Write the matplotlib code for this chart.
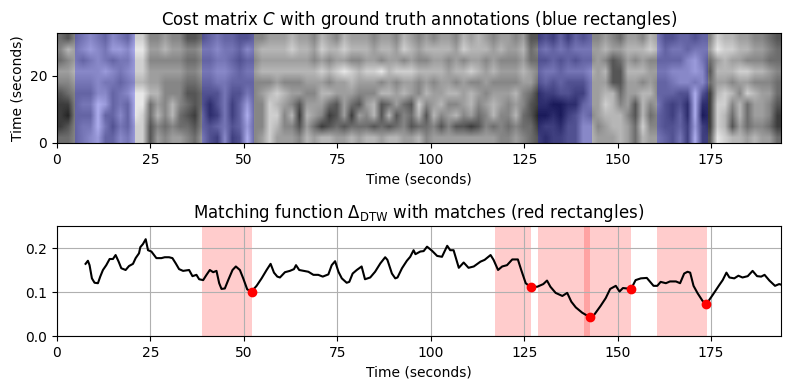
import matplotlib
matplotlib.use("Agg")
import matplotlib.pyplot as plt
import numpy as np

# gray level per cell (0 dark, 9 light), top band first, one cell per 2 seconds
cost_rows = [
    "4356765765 8855655334 5655445566 6766576576 6656657656 5665767656 6563343535 4556546657 6445545587 7665543",
    "5767876887 9966766556 6766576777 7877687787 7767768767 7776877767 6674565656 6667667778 7566566698 8776654",
    "4565676566 8855555445 5665455666 6666565665 5665665655 6656566565 5564445454 5565346565 5555786467 6655544",
    "6677778767 8866666556 6776566777 7777787898 7889788877 7767787676 6676566566 6767337776 6677787377 7887765",
    "5566676656 7766555445 5665555556 5556665667 6665656656 5665655655 5566454544 4666336656 5567767466 5665554",
    "3455577567 9977555334 4464465678 7665577666 5557767657 6677676566 6754233443 3667746677 5554494278 7587664",
    "2256698565 9946575434 2463585587 6536664364 3673464385 6755675676 5653221122 5668756375 6434292288 5746653",
    "2155595575 9847574325 2363595588 5727652362 6573735473 7567564575 5743112134 6567775374 5435291287 4746652",
    "2356696465 8835454435 4564585587 5536423434 4434345344 5353323545 4544233244 7756776485 5445383287 3645542",
    "4456785576 8836566546 4373495686 6657677667 6776776675 6666666665 5654323344 7766676476 6546393398 7767664",
]
duration = 193.7
query_len = 32.8

annot_starts = [4.7, 38.7, 128.7, 160.4]
annot_ends = [20.8, 52.7, 143.2, 174.2]

delta_t = [7.64, 8.27, 8.71, 9.34, 10.05, 10.95, 11.57, 12.29, 13.18, 14.08, 14.97, 15.68, 16.49, 17.2, 18.36,
           19.26, 20.33, 21.04, 21.94, 22.3, 23.0, 23.73, 24.35, 25.25, 26.59, 27.93, 28.82, 29.98, 30.88, 31.77,
           32.66, 33.73, 35.34, 36.24, 37.31, 38.03, 39.1, 40.0, 40.89, 41.78, 42.67, 43.39, 44.01, 44.9, 45.8,
           46.96, 47.85, 48.93, 49.82, 50.89, 52.05, 53.4, 54.74, 56.08, 57.15, 58.05, 58.94, 59.65, 60.99, 62.3,
           63.4, 63.94, 64.8, 66.1, 67.25, 68.6, 69.9, 71.1, 72.6, 73.5, 74.4, 75.3, 76.2, 77.5, 78.2,
           79.1, 80.2, 81.5, 82.4, 83.8, 85.1, 86.5, 87.8, 88.4, 89.6, 90.5, 91.1, 92.3, 93.6, 94.5,
           95.4, 95.9, 97.2, 98.1, 99.0, 100.3, 101.7, 103.0, 104.4, 105.2, 106.1, 107.5, 108.8, 110.1, 111.5,
           113.3, 114.4, 116.0, 116.8, 118.0, 119.1, 120.4, 121.8, 123.3, 124.2, 125.4, 126.7, 128.5, 130.1, 131.1,
           132.0, 133.4, 135.2, 136.5, 137.6, 138.8, 140.5, 142.5, 143.7, 145.4, 146.8, 148.0, 149.5, 150.5, 151.4,
           153.6, 154.8, 156.2, 157.8, 159.6, 160.6, 161.5, 162.9, 164.0, 165.6, 166.7, 167.8, 168.7, 169.4, 170.3,
           171.4, 172.7, 173.7, 175.4, 177.2, 178.1, 179.1, 179.9, 181.2, 182.3, 183.4, 184.8, 186.1, 187.3, 188.4,
           189.3, 190.6, 192.1, 193.2, 194.0]
delta_v = [.164, .171, .161, .131, .121, .120, .135, .150, .161, .175, .175, .184, .169, .154, .150,
           .159, .164, .177, .188, .202, .209, .220, .195, .192, .177, .177, .179, .179, .177, .165,
           .152, .148, .150, .136, .139, .129, .127, .139, .150, .145, .148, .120, .107, .108, .127,
           .150, .158, .150, .131, .106, .101, .114, .131, .150, .164, .144, .135, .133, .145, .148,
           .152, .161, .150, .148, .146, .139, .139, .135, .140, .161, .170, .146, .131, .121, .123,
           .142, .150, .158, .129, .133, .146, .165, .179, .173, .142, .131, .133, .154, .171, .180,
           .195, .186, .192, .193, .203, .194, .182, .180, .205, .195, .195, .155, .167, .155, .158,
           .169, .173, .184, .173, .150, .158, .161, .174, .174, .150, .120, .111, .112, .118, .126,
           .112, .098, .091, .098, .078, .065, .053, .043, .048, .068, .086, .107, .114, .101, .109,
           .107, .127, .131, .132, .114, .114, .123, .120, .124, .124, .120, .142, .146, .144, .114,
           .097, .080, .072, .093, .116, .127, .144, .133, .131, .137, .133, .136, .148, .136, .135,
           .139, .126, .114, .118, .116]

match_starts = [38.8, 117.3, 128.8, 141.0, 160.5]
match_ends = [52.05, 126.7, 142.6, 153.7, 173.8]
match_t = [52.05, 126.7, 142.5, 153.6, 173.7]
match_v = [.101, .111, .043, .107, .072]

cost = np.array([[int(c) for c in row.replace(" ", "")] for row in cost_rows])

fig = plt.figure(figsize=(7.89, 3.89), dpi=100)
ax1 = fig.add_axes([57 / 789, 1 - 143 / 389, 724 / 789, 110 / 389])
ax2 = fig.add_axes([57 / 789, 1 - 336 / 389, 724 / 789, 110 / 389])

ax1.imshow(cost, cmap="gray", vmin=-0.5, vmax=10, aspect="auto",
           interpolation="bilinear", extent=[0, duration, 0, query_len])
for s, e in zip(annot_starts, annot_ends):
    ax1.axvspan(s, e, color="blue", alpha=0.25, lw=0)
ax1.set_yticks([0, 20])
ax1.set_xticks(range(0, 176, 25))
ax1.set_xlabel("Time (seconds)")
ax1.set_ylabel("Time (seconds)")
ax1.set_title("Cost matrix $C$ with ground truth annotations (blue rectangles)")

for s, e in zip(match_starts, match_ends):
    ax2.axvspan(s, e, color="red", alpha=0.2, lw=0)
ax2.plot(delta_t, delta_v, color="black")
ax2.plot(match_t, match_v, "ro")
ax2.grid(True)
ax2.set_xlim(0, duration)
ax2.set_ylim(0, 0.25)
ax2.set_xticks(range(0, 176, 25))
ax2.set_yticks([0, 0.1, 0.2])
ax2.set_xlabel("Time (seconds)")
ax2.set_title(r"Matching function $\Delta_{\mathrm{DTW}}$ with matches (red rectangles)")

fig.savefig("out.png", dpi=100)
